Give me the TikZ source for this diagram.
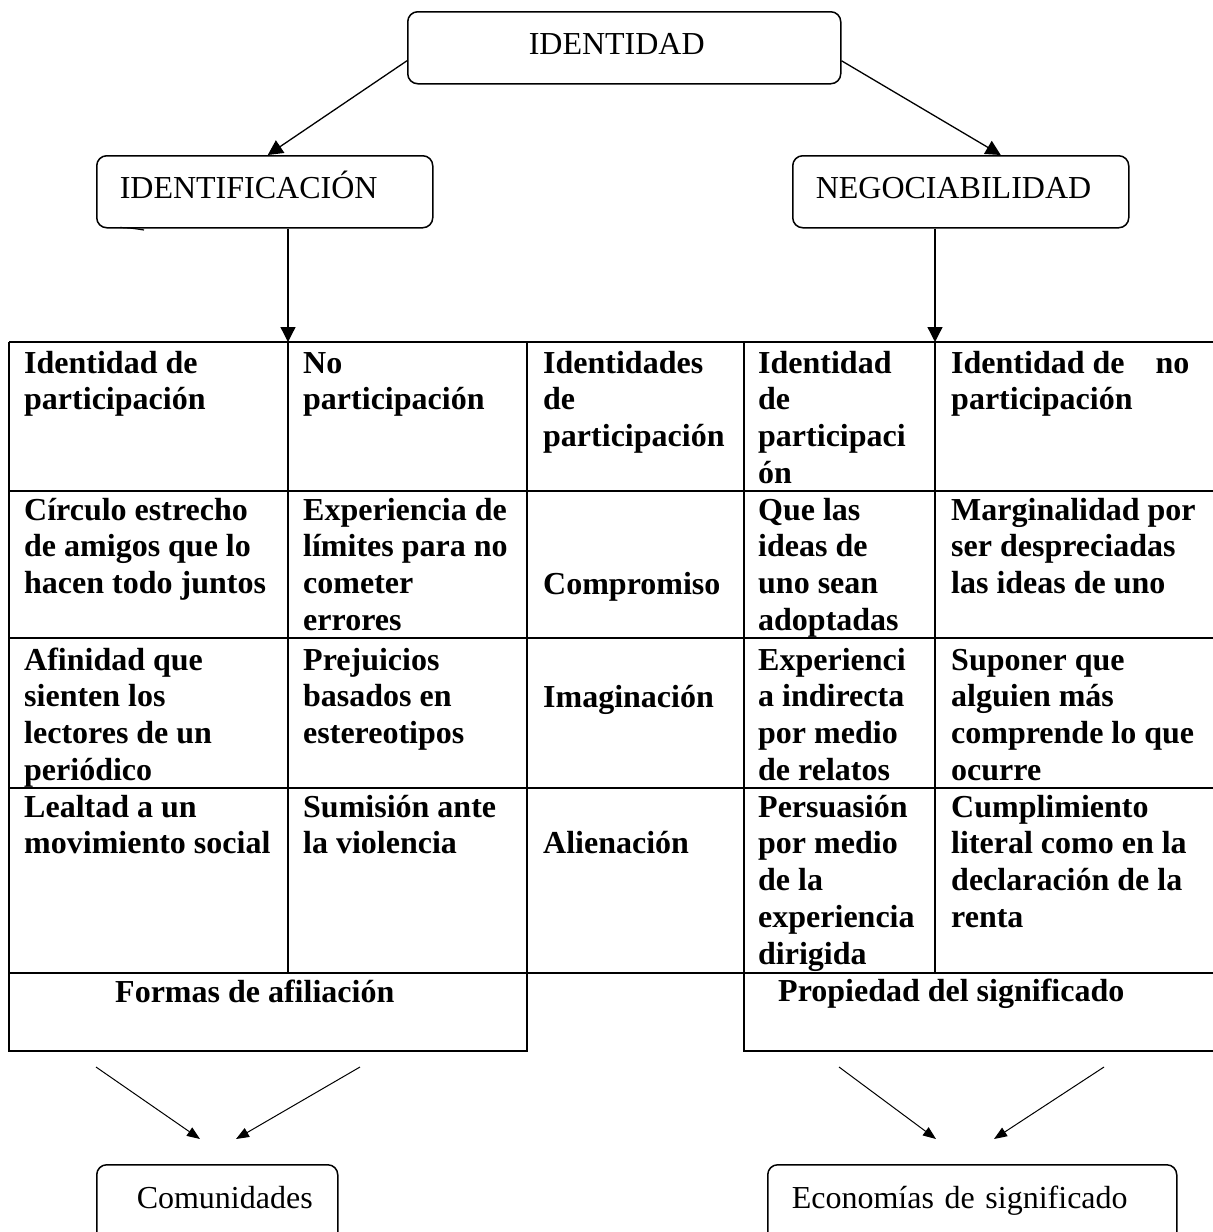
\documentclass[tikz,border=0pt]{standalone}
\usepackage{fontspec}
\setmainfont{Liberation Serif}
\usetikzlibrary{arrows.meta}
\begin{document}
\begin{tikzpicture}[x=1pt,y=-1pt,
  rbox/.style={draw, line width=1.5pt, rounded corners=10pt, inner sep=0pt,
    anchor=north west, align=left, font=\fontsize{32}{36.7}\selectfont},
  cell/.style={anchor=north west, yshift=25.69pt, inner sep=0pt, align=left,
    font=\fontsize{32}{36.7}\selectfont\bfseries},
  grid/.style={line width=1.8pt},
  arr/.style={line width=1.3pt, -{Triangle[length=15pt,width=15pt]}},
  arrs/.style={line width=1pt, -{Triangle[length=13pt,width=10pt]}}]
\useasboundingbox (0,0) rectangle (1213,1232);
\clip (0,0) rectangle (1213,1232);

% top boxes
\node[rbox, text width=433pt, text height=43pt, text depth=29pt] (identidad) at (407,11)
  {\noindent\hspace*{121pt}IDENTIDAD};
\node[rbox, text width=336pt, text height=43pt, text depth=29pt] (identificacion) at (96,155)
  {\noindent\hspace*{23pt}IDENTIFICACIÓN};
\node[rbox, text width=336pt, text height=43pt, text depth=29pt] (negociabilidad) at (792,155)
  {\noindent\hspace*{23pt}NEGOCIABILIDAD};

\draw[arr] ([yshift=-13pt]identidad.west) -- ([xshift=3pt]identificacion.north);
\draw[arr] ([yshift=-13pt]identidad.east) -- ([xshift=40pt]negociabilidad.north);
\draw[line width=1.2pt] (120,227.5) .. controls (131,228) .. (144,230);

% table grid
\foreach \yy in {342,491,638,788,973} \draw[grid] (9,\yy) -- (1214,\yy);
\draw[grid] (9,342) -- (9,1051) -- (527,1051) -- (527,342);
\draw[grid] (288,342) -- (288,973);
\draw[grid] (744,342) -- (744,1051) -- (1214,1051);
\draw[grid] (935,342) -- (935,973);

\coordinate (tA) at (288,342);
\coordinate (tB) at (935,342);
\draw[arr] (identificacion.south -| tA) -- (tA);
\draw[arr] (negociabilidad.south -| tB) -- (tB);

% row 1
\node[cell] (c11) at (24,373) {\strut Identidad de\\participación};
\node[cell] (c12) at (303,373) {\strut No\\participación};
\node[cell] (c13) at (543,373) {\strut Identidades\\de\\participación};
\node[cell] (c14) at (758,373) {\strut Identidad\\de\\participaci\\ón};
\node[cell] (c15) at (951,373) {\strut Identidad de\hspace*{31pt}no\\participación};
% row 2
\node[cell] (c21) at (24,520) {\strut Círculo estrecho\\de amigos que lo\\hacen todo juntos};
\node[cell] (c22) at (303,520) {\strut Experiencia de\\límites para no\\cometer\\errores};
\node[cell] (c23) at (543,594) {\strut Compromiso};
\node[cell] (c24) at (758,520) {\strut Que las\\ideas de\\uno sean\\adoptadas};
\node[cell] (c25) at (951,520) {\strut Marginalidad por\\ser despreciadas\\las ideas de uno};
% row 3
\node[cell] (c31) at (24,670) {\strut Afinidad que\\sienten los\\lectores de un\\periódico};
\node[cell] (c32) at (303,670) {\strut Prejuicios\\basados en\\estereotipos};
\node[cell] (c33) at (543,707) {\strut Imaginación};
\node[cell] (c34) at (758,670) {\strut Experienci\\a indirecta\\por medio\\de relatos};
\node[cell] (c35) at (951,670) {\strut Suponer que\\alguien más\\comprende lo que\\ocurre};
% row 4
\node[cell] (c41) at (24,817) {\strut Lealtad a un\\movimiento social};
\node[cell] (c42) at (303,817) {\strut Sumisión ante\\la violencia};
\node[cell] (c43) at (543,853) {\strut Alienación};
\node[cell] (c44) at (758,817) {\strut Persuasión\\por medio\\de la\\experiencia\\dirigida};
\node[cell] (c45) at (951,817) {\strut Cumplimiento\\literal como en la\\declaración de la\\renta};
% bottom row
\node[cell] (formas) at (115,1002) {\strut Formas de afiliación};
\node[cell] (propiedad) at (778,1001) {\strut Propiedad del significado};

% bottom arrows
\coordinate (a1) at (96,1067);  \coordinate (a1e) at (200,1139);
\coordinate (a2) at (360,1067); \coordinate (a2e) at (236,1139);
\coordinate (a3) at (839,1067); \coordinate (a3e) at (936,1139);
\coordinate (a4) at (1104,1067);\coordinate (a4e) at (994,1139);
\draw[arrs] (a1) -- (a1e);
\draw[arrs] (a2) -- (a2e);
\draw[arrs] (a3) -- (a3e);
\draw[arrs] (a4) -- (a4e);

% bottom boxes
\node[rbox, text width=241pt, text height=44pt, text depth=40pt] (comunidades) at (96,1164)
  {\noindent\hspace*{40pt}Comunidades};
\node[rbox, text width=409pt, text height=44pt, text depth=40pt] (economias) at (767,1164)
  {\noindent\hspace*{24pt}Economías de significado};
\end{tikzpicture}
\end{document}
